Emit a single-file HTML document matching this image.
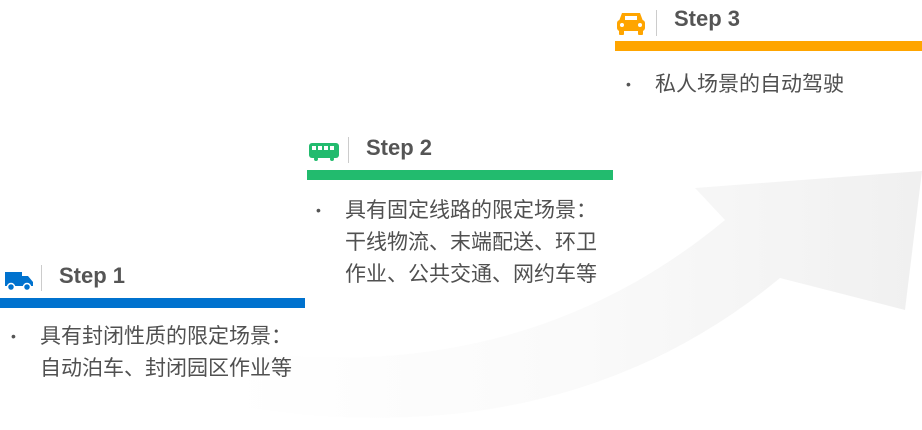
<html><head><style>
body{margin:0;width:922px;height:430px;background:#fff;position:relative;overflow:hidden;font-family:"Liberation Sans","Noto Sans CJK SC",sans-serif}
.t{position:absolute;font-size:22px;font-weight:bold;color:#555}
.bar{position:absolute;height:10px}
.sep{position:absolute;width:1px;height:26px;background:#ccc}
.tx{position:absolute;font-size:21px;color:#505050;line-height:32px;white-space:nowrap}
.dot{position:absolute;font-size:14px;color:#555}
</style></head><body>
<svg width="922" height="430" style="position:absolute;left:0;top:0">
<defs><linearGradient id="g" x1="0" y1="0" x2="1" y2="0"><stop offset="0" stop-color="#fff"/><stop offset="0.5" stop-color="#fafafa"/><stop offset="1" stop-color="#f0f0f0"/></linearGradient></defs>
<path d="M230 350 Q520 390 725 220 L695 188 L922 171 L905 310 L780 278 Q560 460 230 405 Z" fill="url(#g)"/>
</svg>
<svg style="position:absolute;left:4px;top:266px" width="30" height="26"><path d="M1 6h17v14H1z M18 10h6l5 6v4H18z" fill="#0072ce"/><circle cx="7" cy="21" r="3.5" fill="#0072ce" stroke="#fff" stroke-width="1.5"/><circle cx="23" cy="21" r="3.5" fill="#0072ce" stroke="#fff" stroke-width="1.5"/></svg>
<div class="sep" style="left:41px;top:265px"></div>
<div class="t" style="left:59px;top:263px">Step 1</div>
<div class="bar" style="left:0;top:298px;width:305px;background:#0072ce"></div>
<div class="dot" style="left:11px;top:328px">•</div>
<div class="tx" style="left:40px;top:321px">具有封闭性质的限定场景：<br>自动泊车、封闭园区作业等</div>
<svg style="position:absolute;left:308px;top:142px" width="32" height="20"><rect x="1" y="1" width="30" height="15" rx="3" fill="#22bb6e"/><rect x="4" y="4" width="4" height="4" fill="#fff"/><rect x="10" y="4" width="4" height="4" fill="#fff"/><rect x="16" y="4" width="4" height="4" fill="#fff"/><rect x="22" y="4" width="4" height="4" fill="#fff"/><circle cx="8" cy="17" r="2" fill="#22bb6e"/><circle cx="24" cy="17" r="2" fill="#22bb6e"/></svg>
<div class="sep" style="left:348px;top:137px"></div>
<div class="t" style="left:366px;top:135px">Step 2</div>
<div class="bar" style="left:307px;top:170px;width:306px;background:#22bb6e"></div>
<div class="dot" style="left:316px;top:202px">•</div>
<div class="tx" style="left:345px;top:195px">具有固定线路的限定场景：<br>干线物流、末端配送、环卫<br>作业、公共交通、网约车等</div>
<svg style="position:absolute;left:616px;top:10px" width="30" height="26"><path d="M6 3h18l3 8H3z" fill="#ffa500"/><rect x="1" y="10" width="28" height="11" rx="3" fill="#ffa500"/><rect x="3" y="19" width="5" height="6" rx="1" fill="#ffa500"/><rect x="22" y="19" width="5" height="6" rx="1" fill="#ffa500"/><rect x="9" y="6" width="12" height="4" fill="#fff"/><circle cx="6" cy="15" r="2" fill="#fff"/><circle cx="24" cy="15" r="2" fill="#fff"/></svg>
<div class="sep" style="left:656px;top:10px"></div>
<div class="t" style="left:674px;top:6px">Step 3</div>
<div class="bar" style="left:615px;top:41px;width:307px;background:#ffa500"></div>
<div class="dot" style="left:626px;top:76px">•</div>
<div class="tx" style="left:655px;top:69px">私人场景的自动驾驶</div>
</body></html>
